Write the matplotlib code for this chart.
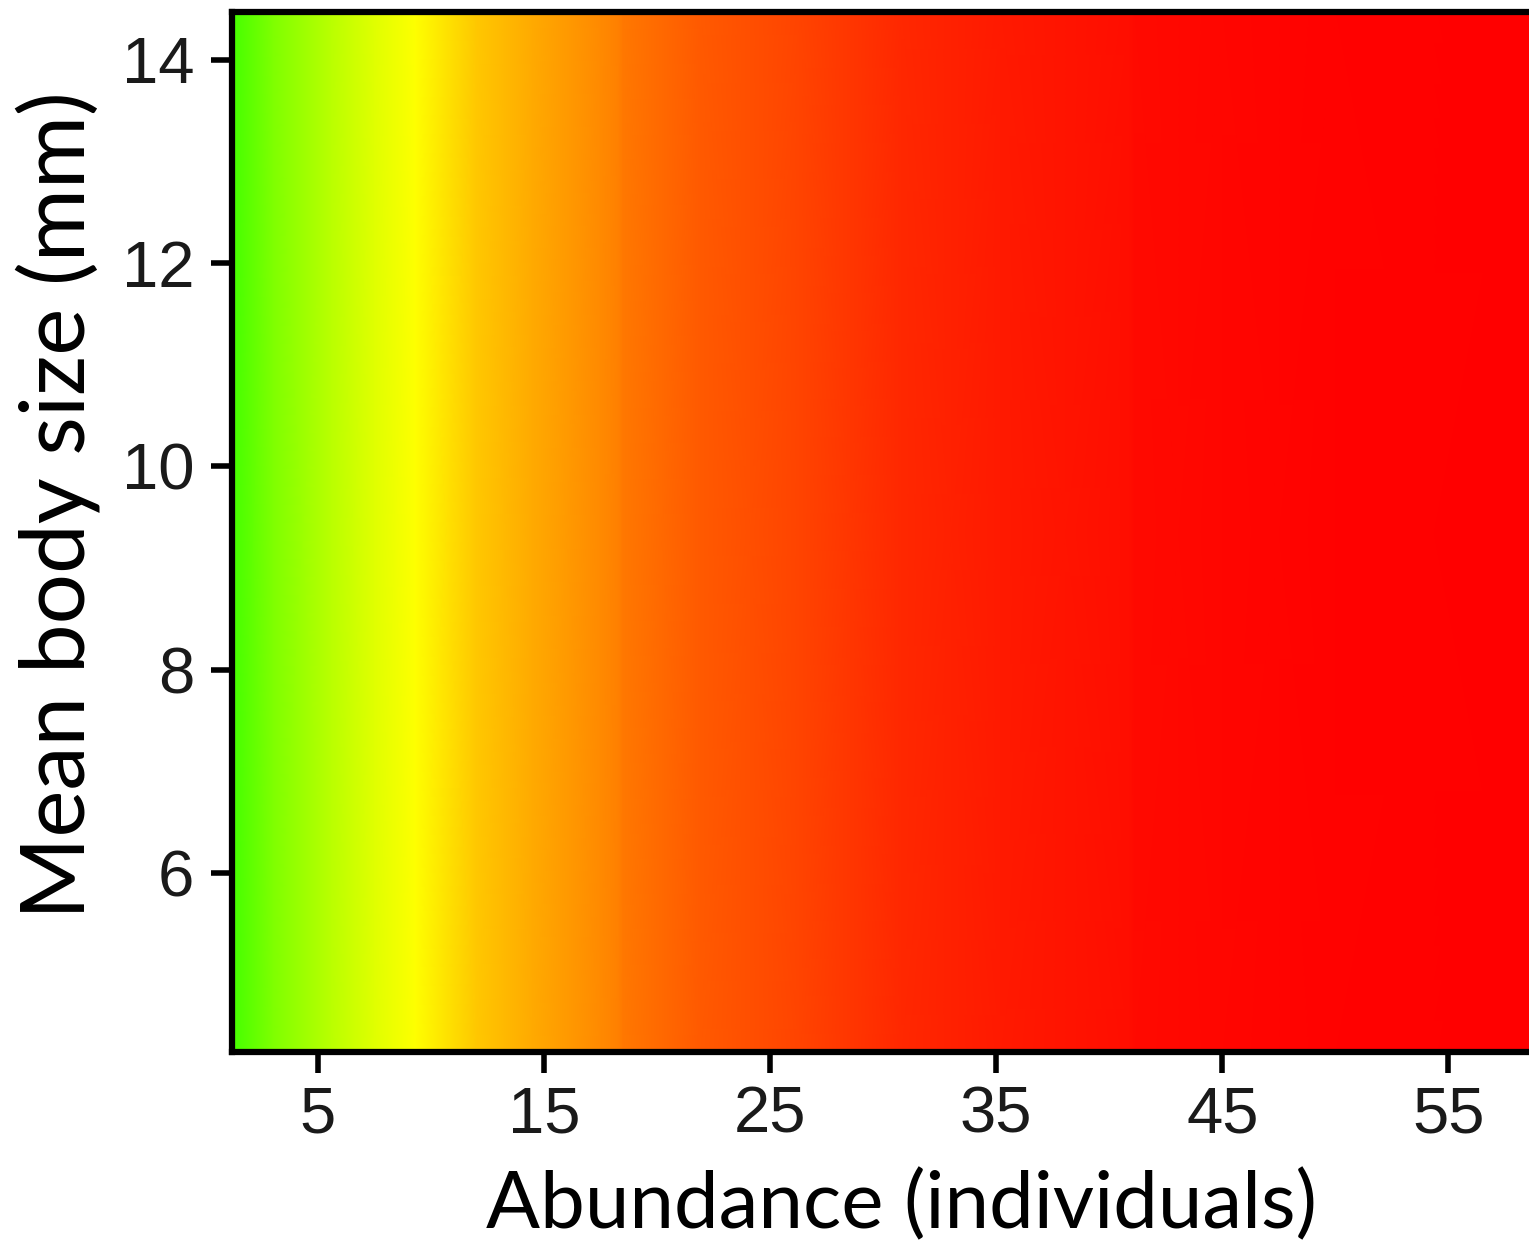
import numpy as np
import matplotlib
matplotlib.use('Agg')
import matplotlib.pyplot as plt
from matplotlib.colors import LinearSegmentedColormap

# Fitted response along abundance (0 = red, 0.5 = yellow, 1 = green); constant over body size
abundance = [1.2, 3.0, 5.6, 7.5, 9.3, 12.0, 14.5, 17.5, 18.3, 18.5, 21.9, 26.3, 30.8, 35.2, 40.9, 41.1, 45.0, 50.0, 58.7]
response = [0.867, 0.75, 0.633, 0.56, 0.5, 0.392, 0.333, 0.27, 0.25, 0.235, 0.176, 0.133, 0.082, 0.051, 0.03, 0.022, 0.012, 0.006, 0.0]
body_size = [4.24, 14.47]

x_ticks = [5, 15, 25, 35, 45, 55]
y_ticks = [6, 8, 10, 12, 14]

cmap = LinearSegmentedColormap.from_list('ryg', ['#ff0000', '#ffff00', '#00ff00'])

fig = plt.figure(figsize=(15.29, 12.41), dpi=100)
W, H = 1529, 1241
left, right, top, bottom = 232, 1532, 12, 1052
ax = fig.add_axes([left / W, 1 - bottom / H, (right - left) / W, (bottom - top) / H])

X, Y = np.meshgrid(abundance, body_size)
C = np.vstack([response, response])
ax.pcolormesh(X, Y, C, cmap=cmap, vmin=0, vmax=1, shading='gouraud')

ax.set_xlim(abundance[0], abundance[-1])
ax.set_ylim(body_size[0], body_size[1])
ax.set_xticks(x_ticks)
ax.set_yticks(y_ticks)

for s in ax.spines.values():
    s.set_linewidth(4.5)
    s.set_color('black')
    s.set_zorder(5)

ax.tick_params(axis='both', length=15, width=4, color='black')
ax.tick_params(axis='x', pad=9)
ax.tick_params(axis='y', pad=12)
for lab in ax.get_xticklabels() + ax.get_yticklabels():
    lab.set_family('Liberation Sans')
    lab.set_fontsize(47)
    lab.set_color('#1a1a1a')

ax.set_xlabel('Abundance (individuals)', family='Lato', fontsize=57.5, va='baseline')
ax.xaxis.set_label_coords((902 - left) / (right - left), -(1228 - bottom) / (bottom - top))

ax.set_ylabel('Mean body size (mm)', family='Lato', fontsize=64, va='center')
ax.yaxis.set_label_coords(-(left - 58) / (right - left), (bottom - 505) / (bottom - top))

fig.savefig('out.png', dpi=100)
